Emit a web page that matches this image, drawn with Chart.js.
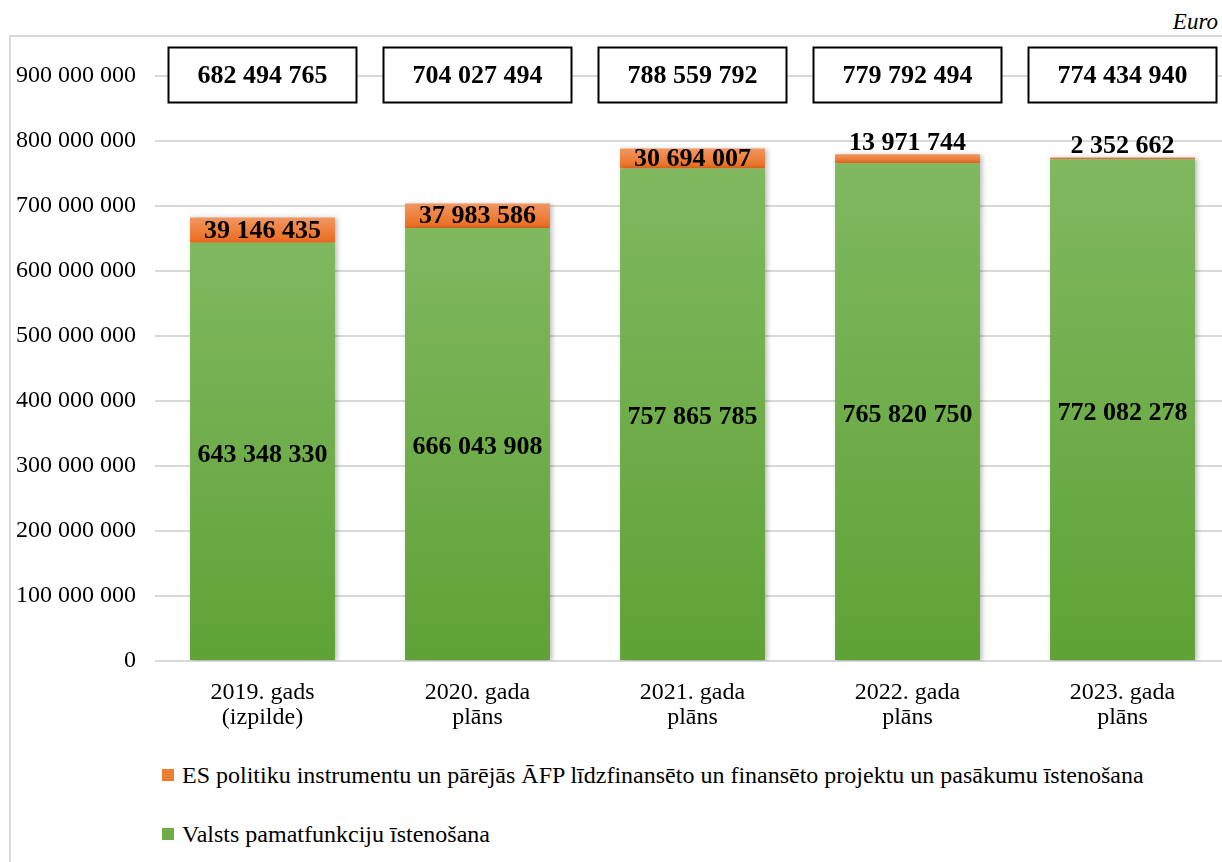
<!DOCTYPE html>
<html lang="lv">
<head>
    <meta charset="UTF-8">
    <script src="https://cdn.jsdelivr.net/npm/chart.js"></script>
    <title>Izdevumi</title>
    <style>
        body { margin: 0; width: 1222px; height: 862px; overflow: hidden; background: #fff; position: relative; font-family: "Liberation Serif", serif; }
        #frame { position: absolute; left: 9px; top: 35px; width: 1300px; height: 900px; border: 2px solid #d9d9d9; box-sizing: border-box; }
        #euro { position: absolute; right: 4px; top: 9px; font-style: italic; font-size: 23px; color: #000; }
        #chartBox { position: absolute; left: 0; top: 0; }
        #legend { position: absolute; left: 162px; top: 760px; font-size: 24px; color: #000; }
        .item { display: flex; align-items: center; height: 30px; margin-bottom: 29px; white-space: nowrap; }
        .item span.sw { width: 12px; height: 12px; margin-right: 8px; display: inline-block; }
    </style>
</head>
<body>
<div id="frame"></div>
<div id="euro">Euro</div>
<div id="chartBox"><canvas id="myChart" width="1240" height="740"></canvas></div>
<div id="legend"></div>
<script>
var categories = [['2019. gads', '(izpilde)'], ['2020. gada', 'plāns'], ['2021. gada', 'plāns'], ['2022. gada', 'plāns'], ['2023. gada', 'plāns']];
var valstsValues = [643348330, 666043908, 757865785, 765820750, 772082278];
var esValues = [39146435, 37983586, 30694007, 13971744, 2352662];
var yTicks = [0, 100000000, 200000000, 300000000, 400000000, 500000000, 600000000, 700000000, 800000000, 900000000];
var seriesNames = ['Valsts pamatfunkciju īstenošana', 'ES politiku instrumentu un pārējās ĀFP līdzfinansēto un finansēto projektu un pasākumu īstenošana'];

function fmt(v) {
    return String(v).replace(/\B(?=(\d{3})+(?!\d))/g, ' ');
}

// gradient per bar, from its top to its bottom
function barGradient(top, bottom) {
    return function (c) {
        var chart = c.chart;
        if (!chart.chartArea || c.dataIndex === undefined) return bottom;
        var y = chart.scales.y;
        var ds = chart.data.datasets;
        var base = 0;
        for (var k = 0; k < c.datasetIndex; k++) base += ds[k].data[c.dataIndex];
        var y0 = y.getPixelForValue(base);
        var y1 = y.getPixelForValue(base + ds[c.datasetIndex].data[c.dataIndex]);
        if (y0 - y1 < 1) return bottom;
        var g = chart.ctx.createLinearGradient(0, y1, 0, y0);
        g.addColorStop(0, top);
        g.addColorStop(1, bottom);
        return g;
    };
}

var shadowPlugin = {
    id: 'shadow',
    beforeDatasetsDraw: function (chart) {
        var ctx = chart.ctx;
        ctx.save();
        ctx.shadowColor = 'rgba(0,0,0,0.28)';
        ctx.shadowBlur = 5;
        ctx.shadowOffsetX = 2;
        ctx.shadowOffsetY = 1;
    },
    afterDatasetsDraw: function (chart) {
        chart.ctx.restore();
    }
};

var labelPlugin = {
    id: 'labels',
    afterDraw: function (chart) {
        var ctx = chart.ctx;
        var y = chart.scales.y;
        var x = chart.scales.x;
        ctx.save();
        ctx.font = 'bold 26px "Liberation Serif"';
        ctx.fillStyle = '#000';
        ctx.textAlign = 'center';
        ctx.textBaseline = 'middle';
        for (var i = 0; i < categories.length; i++) {
            var cx = x.getPixelForValue(i);
            // green value, centred in its segment
            var g0 = y.getPixelForValue(0);
            var g1 = y.getPixelForValue(valstsValues[i]);
            ctx.fillText(fmt(valstsValues[i]), cx, (g0 + g1) / 2 + 3);
            // orange value, inside if there is room, else above
            var o1 = y.getPixelForValue(valstsValues[i] + esValues[i]);
            if (g1 - o1 >= 15) {
                ctx.fillText(fmt(esValues[i]), cx, (g1 + o1) / 2 + 1);
            } else {
                ctx.fillText(fmt(esValues[i]), cx, o1 - 11);
            }
            // total in a box at the top
            var total = valstsValues[i] + esValues[i];
            var ty = y.getPixelForValue(yTicks[yTicks.length - 1]) - 1;
            var bw = 188, bh = 55;
            ctx.fillStyle = '#fff';
            ctx.fillRect(cx - bw / 2, ty - bh / 2, bw, bh);
            ctx.lineWidth = 2;
            ctx.strokeStyle = '#000';
            ctx.strokeRect(cx - bw / 2, ty - bh / 2, bw, bh);
            ctx.fillStyle = '#000';
            ctx.fillText(fmt(total), cx, ty + 1);
        }
        ctx.restore();
    }
};

var ctx = document.getElementById('myChart').getContext('2d');
var myChart = new Chart(ctx, {
    type: 'bar',
    data: {
        labels: categories,
        datasets: [
            {
                label: seriesNames[0],
                data: valstsValues,
                backgroundColor: barGradient('#80b860', '#5fa236'),
                legendColor: '#70ad47',
                barPercentage: 0.674,
                categoryPercentage: 1
            },
            {
                label: seriesNames[1],
                data: esValues,
                backgroundColor: barGradient('#f29763', '#ea6b1b'),
                legendColor: '#ed7d31',
                barPercentage: 0.674,
                categoryPercentage: 1
            }
        ]
    },
    options: {
        responsive: false,
        animation: false,
        layout: { padding: { left: 10, top: 76, right: 10, bottom: 0 } },
        plugins: {
            legend: { display: false },
            tooltip: { enabled: false }
        },
        scales: {
            x: {
                stacked: true,
                grid: { display: false, drawTicks: false },
                border: { display: false },
                ticks: {
                    color: '#000',
                    padding: 19,
                    font: { family: 'Liberation Serif', size: 24, lineHeight: 1.05 },
                    maxRotation: 0
                },
                afterFit: function (s) { s.height = 79; }
            },
            y: {
                stacked: true,
                min: 0,
                max: 900000000,
                afterBuildTicks: function (s) {
                    s.ticks = yTicks.map(function (v) { return { value: v }; });
                },
                grid: { color: '#d9d9d9', lineWidth: 2, drawTicks: false },
                border: { display: false },
                ticks: {
                    color: '#000',
                    padding: 19,
                    font: { family: 'Liberation Serif', size: 24 },
                    callback: function (v) { return fmt(v); }
                },
                afterFit: function (s) { s.width = 145; }
            }
        }
    },
    plugins: [shadowPlugin, labelPlugin]
});

// legend, top series first
var legend = document.getElementById('legend');
var dsets = myChart.data.datasets;
for (var i = dsets.length - 1; i >= 0; i--) {
    var div = document.createElement('div');
    div.className = 'item';
    div.innerHTML = '<span class="sw" style="background:' + dsets[i].legendColor + '"></span>' + dsets[i].label;
    legend.appendChild(div);
}
</script>
</body>
</html>
